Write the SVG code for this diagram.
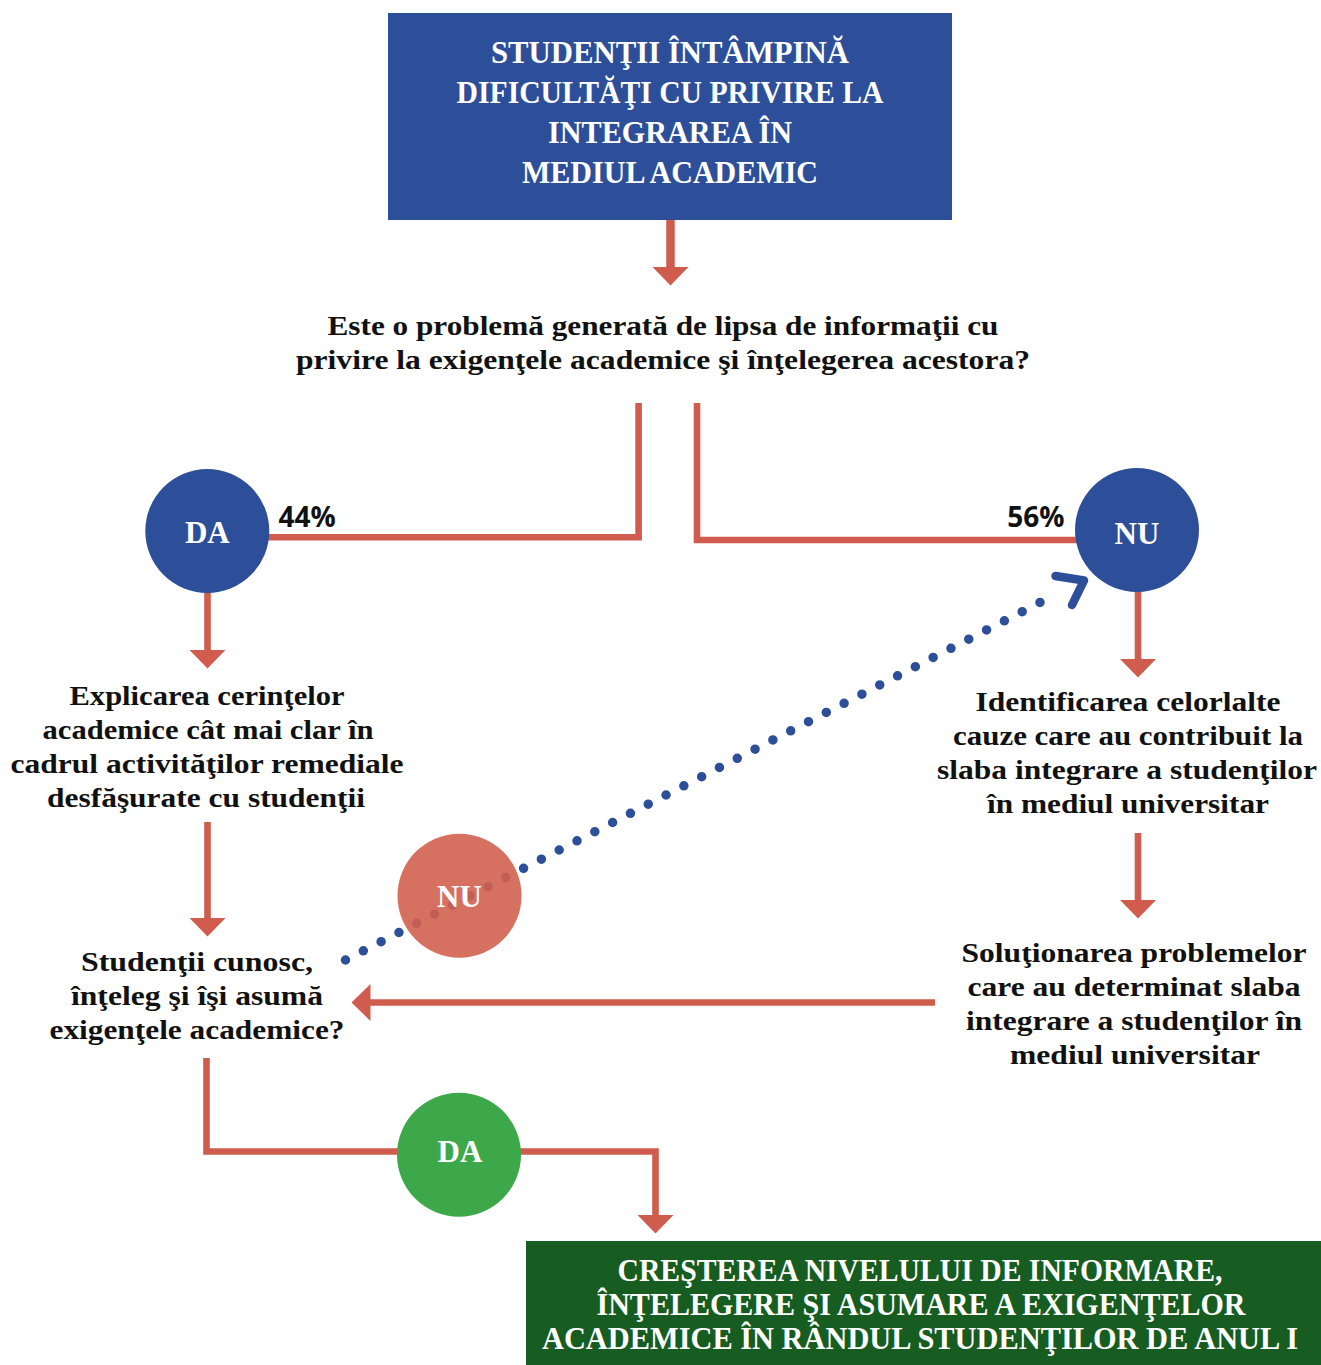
<svg xmlns="http://www.w3.org/2000/svg" width="1321" height="1365" viewBox="0 0 1321 1365">
<style>
.bg{fill:#ffffff}
.ln{fill:none;stroke:#d05c4e;stroke-width:6.6;stroke-linejoin:miter}
.dot{fill:none;stroke:#2d4f9a;stroke-width:9.5;stroke-linecap:round;stroke-dasharray:0 1}
.chev{fill:none;stroke:#2d4f9a;stroke-width:8.5;stroke-linecap:round;stroke-linejoin:round}
.t{font-family:"Liberation Serif","Times New Roman",serif;font-weight:700;font-size:27px;fill:#111111;text-anchor:middle}
.cap{font-family:"Liberation Serif","Times New Roman",serif;font-weight:700;font-size:31px;fill:#ffffff;text-anchor:middle}
.cap2{font-family:"Liberation Serif","Times New Roman",serif;font-weight:700;font-size:31px;fill:#ffffff;text-anchor:middle}
.lbl{font-family:"Liberation Serif","Times New Roman",serif;font-weight:700;font-size:31px;fill:#ffffff;text-anchor:middle}
.pct{font-family:"Open Sans","Liberation Sans",sans-serif;font-weight:700;font-size:28px;fill:#111111}
</style>
<defs>
<marker id="ah" viewBox="0 0 19 37" refX="0.5" refY="18.5" markerUnits="userSpaceOnUse" markerWidth="19" markerHeight="37" orient="auto">
<path d="M0,0 L19,18.5 L0,37 Z" fill="#d05c4e"/>
</marker>
</defs>
<rect class="bg" x="0" y="0" width="1321" height="1365"/>

<g id="connectors">
<path class="ln" d="M670.5,219 V267" style="stroke-width:8.5" marker-end="url(#ah)"/>
<path class="ln" d="M638.6,403 V537.3 H265"/>
<path class="ln" d="M697,403 V540 H1080"/>
<path class="ln" d="M207.5,590 V650" marker-end="url(#ah)"/>
<path class="ln" d="M207.5,822 V918" marker-end="url(#ah)"/>
<path class="ln" d="M1138,590 V659" marker-end="url(#ah)"/>
<path class="ln" d="M1138,833 V900" marker-end="url(#ah)"/>
<path class="ln" d="M935,1002.5 H370" marker-end="url(#ah)"/>
<path class="ln" d="M206.5,1058 V1151.5 H655.5 V1215" marker-end="url(#ah)"/>
<path class="dot" d="M345.5,960 L1057.8,593.3" pathLength="40"/>
<polyline class="chev" points="1055.5,576 1084,580.5 1072,605"/>
</g>

<g id="start">
<rect x="388" y="13" width="564" height="207" fill="#2d4f9a"/>
<text class="cap" x="670" y="63" textLength="358" lengthAdjust="spacingAndGlyphs">STUDENŢII ÎNTÂMPINĂ</text>
<text class="cap" x="670" y="103" textLength="427" lengthAdjust="spacingAndGlyphs">DIFICULTĂŢI CU PRIVIRE LA</text>
<text class="cap" x="670" y="143" textLength="244" lengthAdjust="spacingAndGlyphs">INTEGRAREA ÎN</text>
<text class="cap" x="670" y="183" textLength="296" lengthAdjust="spacingAndGlyphs">MEDIUL ACADEMIC</text>
</g>

<g id="question1">
<text class="t" x="663" y="335" textLength="671" lengthAdjust="spacingAndGlyphs">Este o problemă generată de lipsa de informaţii cu</text>
<text class="t" x="663" y="369" textLength="734" lengthAdjust="spacingAndGlyphs">privire la exigenţele academice şi înţelegerea acestora?</text>
</g>

<g id="da1">
<circle cx="207.3" cy="531" r="62" fill="#2d4f9a"/>
<text class="lbl" x="207.3" y="542.5">DA</text>
</g>
<text class="pct" x="278.6" y="527">44%</text>

<g id="nu1">
<circle cx="1137" cy="530" r="62" fill="#2d4f9a"/>
<text class="lbl" x="1137" y="544">NU</text>
</g>
<text class="pct" x="1064.5" y="527" text-anchor="end">56%</text>

<g id="explicarea">
<text class="t" x="207" y="705" textLength="275" lengthAdjust="spacingAndGlyphs">Explicarea cerinţelor</text>
<text class="t" x="208" y="739" textLength="331" lengthAdjust="spacingAndGlyphs">academice cât mai clar în</text>
<text class="t" x="207" y="773" textLength="393" lengthAdjust="spacingAndGlyphs">cadrul activităţilor remediale</text>
<text class="t" x="206" y="807" textLength="318" lengthAdjust="spacingAndGlyphs">desfăşurate cu studenţii</text>
</g>

<g id="identificarea">
<text class="t" x="1128" y="711" textLength="305" lengthAdjust="spacingAndGlyphs">Identificarea celorlalte</text>
<text class="t" x="1128" y="745" textLength="350" lengthAdjust="spacingAndGlyphs">cauze care au contribuit la</text>
<text class="t" x="1127" y="779" textLength="380" lengthAdjust="spacingAndGlyphs">slaba integrare a studenţilor</text>
<text class="t" x="1128" y="813" textLength="282" lengthAdjust="spacingAndGlyphs">în mediul universitar</text>
</g>

<g id="studentii">
<text class="t" x="197" y="971" textLength="232" lengthAdjust="spacingAndGlyphs">Studenţii cunosc,</text>
<text class="t" x="197" y="1005" textLength="252" lengthAdjust="spacingAndGlyphs">înţeleg şi îşi asumă</text>
<text class="t" x="197" y="1039" textLength="295" lengthAdjust="spacingAndGlyphs">exigenţele academice?</text>
</g>

<g id="solutionarea">
<text class="t" x="1134" y="962" textLength="345" lengthAdjust="spacingAndGlyphs">Soluţionarea problemelor</text>
<text class="t" x="1134" y="996" textLength="333" lengthAdjust="spacingAndGlyphs">care au determinat slaba</text>
<text class="t" x="1134" y="1030" textLength="336" lengthAdjust="spacingAndGlyphs">integrare a studenţilor în</text>
<text class="t" x="1135" y="1064" textLength="250" lengthAdjust="spacingAndGlyphs">mediul universitar</text>
</g>

<g id="nu2">
<circle cx="459.5" cy="895.7" r="62" fill="#d2604f" fill-opacity="0.9"/>
<text class="lbl" x="459.5" y="907">NU</text>
</g>

<g id="da2">
<circle cx="459" cy="1154.7" r="62" fill="#3ca84a"/>
<text class="lbl" x="460" y="1162">DA</text>
</g>

<g id="result">
<rect x="526" y="1241" width="795" height="124" fill="#175c20"/>
<text class="cap2" x="920" y="1281" textLength="605" lengthAdjust="spacingAndGlyphs">CREŞTEREA NIVELULUI DE INFORMARE,</text>
<text class="cap2" x="921" y="1315" textLength="649" lengthAdjust="spacingAndGlyphs">ÎNŢELEGERE ŞI ASUMARE A EXIGENŢELOR</text>
<text class="cap2" x="920" y="1349" textLength="756" lengthAdjust="spacingAndGlyphs">ACADEMICE ÎN RÂNDUL STUDENŢILOR DE ANUL I</text>
</g>
</svg>
